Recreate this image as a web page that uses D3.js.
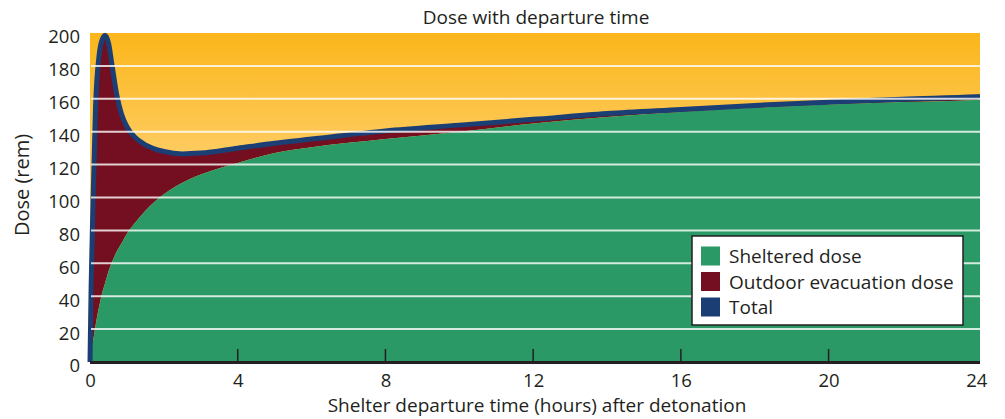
<!DOCTYPE html>
<html>
<head>
<meta charset="utf-8">
<script src="https://cdn.jsdelivr.net/npm/d3@7"></script>
<style>
  body { margin: 0; background: #fff; }
  text { font-family: "Open Sans", sans-serif; fill: #231f20; }
</style>
</head>
<body>
<script>
//data
var hours     = [0, 0.03, 0.08, 0.15, 0.25, 0.33, 0.41, 0.5, 0.6, 0.72, 0.85, 1.0, 1.2, 1.5, 2, 2.5, 3, 4, 5, 6, 8, 10, 12, 14, 16, 18, 20, 22, 24, 24.1];
var sheltered = [0, 4, 12, 22, 34, 42, 48, 55, 61, 67, 72, 78, 84, 92, 102, 109, 114, 121, 127, 130.5, 135.5, 140, 145, 149, 152, 154.5, 156.5, 158, 159.3, 159.4];
var total     = [0, 45, 95, 155, 187, 196, 198.5, 194, 180, 163, 151, 143, 137, 132, 128, 126.5, 127, 130, 133, 135.5, 140.5, 144, 147.5, 151, 153.5, 156, 158, 159.8, 161.3, 161.4];
var yTicks = [0, 20, 40, 60, 80, 100, 120, 140, 160, 180, 200];
var xTicks = [0, 4, 8, 12, 16, 20, 24];
var legendNames = ["Sheltered dose", "Outdoor evacuation dose", "Total"];
var legendColors = ["#2b9965", "#730f20", "#1b3f74"];

var data = hours.map(function(h, i) {
    return {t: h, s: sheltered[i], tot: total[i]};
});

//set margin
var margin = {top: 33, right: 25, bottom: 57, left: 90},
    W = 1005, H = 419,
    width = W - margin.left - margin.right,
    height = H - margin.top - margin.bottom;

var svg = d3.select("body")
    .append("svg")
    .attr("width", W)
    .attr("height", H);

var x = d3.scaleLinear().domain([0, 24.1]).range([margin.left, margin.left + width]);
var y = d3.scaleLinear().domain([0, 200]).range([margin.top + height, margin.top]);

//background gradient
var grad = svg.append("defs").append("linearGradient")
    .attr("id", "bg")
    .attr("x1", 0).attr("y1", 0).attr("x2", 0).attr("y2", 1);
grad.append("stop").attr("offset", "0%").attr("stop-color", "#fbb61b");
grad.append("stop").attr("offset", "38%").attr("stop-color", "#fecc62");
grad.append("stop").attr("offset", "100%").attr("stop-color", "#fed47c");

svg.append("rect")
    .attr("x", x(0))
    .attr("y", y(200))
    .attr("width", x(24.1) - x(0))
    .attr("height", y(0) - y(200))
    .attr("fill", "url(#bg)");

//areas
var greenArea = d3.area()
    .x(function(d) { return x(d.t); })
    .y0(y(0))
    .y1(function(d) { return y(d.s); })
    .curve(d3.curveMonotoneX);

var redArea = d3.area()
    .x(function(d) { return x(d.t); })
    .y0(function(d) { return y(d.s); })
    .y1(function(d) { return y(d.tot); })
    .curve(d3.curveMonotoneX);

var totalLine = d3.line()
    .x(function(d) { return x(d.t); })
    .y(function(d) { return y(d.tot); })
    .curve(d3.curveMonotoneX);

svg.append("path").datum(data).attr("d", redArea).attr("fill", legendColors[1]);
svg.append("path").datum(data).attr("d", greenArea).attr("fill", legendColors[0]);
svg.append("path").datum(data)
    .attr("d", totalLine)
    .attr("fill", "none")
    .attr("stroke", legendColors[2])
    .attr("stroke-width", 5)
    .attr("stroke-linejoin", "round");

//grid lines
svg.append("g")
    .selectAll("line")
    .data(yTicks.filter(function(v) { return v > 0 && v < 200; }))
    .enter()
    .append("line")
    .attr("x1", x(0) + 1)
    .attr("x2", x(24.1))
    .attr("y1", function(d) { return y(d); })
    .attr("y2", function(d) { return y(d); })
    .attr("stroke", "#fff")
    .attr("stroke-opacity", 0.8)
    .attr("stroke-width", 2);

//x axis
var xAxis = d3.axisBottom(x)
    .tickValues(xTicks)
    .tickSize(0)
    .tickPadding(12);

var gx = svg.append("g")
    .attr("transform", "translate(0," + y(0) + ")")
    .call(xAxis);
gx.select(".domain").remove();
gx.selectAll("text").style("font-size", "18.5px").attr("fill", "#231f20");

svg.append("line")
    .attr("x1", x(0)).attr("x2", x(24.1))
    .attr("y1", y(0) + 0.5).attr("y2", y(0) + 0.5)
    .attr("stroke", "#231f20")
    .attr("stroke-width", 3);

svg.append("g")
    .selectAll("line")
    .data(xTicks.filter(function(v) { return v > 0 && v < 24; }))
    .enter()
    .append("line")
    .attr("x1", function(d) { return x(d); })
    .attr("x2", function(d) { return x(d); })
    .attr("y1", y(0) - 13)
    .attr("y2", y(0))
    .attr("stroke", "#231f20")
    .attr("stroke-width", 1.5);

//y axis
var yAxis = d3.axisLeft(y)
    .tickValues(yTicks)
    .tickSize(0)
    .tickPadding(10);

var gy = svg.append("g")
    .attr("transform", "translate(" + x(0) + ",4)")
    .call(yAxis);
gy.select(".domain").remove();
gy.selectAll("text").style("font-size", "18.5px").attr("fill", "#231f20");

//titles
svg.append("text")
    .attr("x", 536)
    .attr("y", 24)
    .attr("text-anchor", "middle")
    .style("font-size", "19px")
    .text("Dose with departure time");

svg.append("text")
    .attr("x", 537)
    .attr("y", 412)
    .attr("text-anchor", "middle")
    .style("font-size", "19px")
    .text("Shelter departure time (hours) after detonation");

svg.append("text")
    .attr("transform", "translate(29,185) rotate(-90)")
    .attr("text-anchor", "middle")
    .style("font-size", "20px")
    .text("Dose (rem)");

//legend
var legend = svg.append("g").attr("transform", "translate(692,236)");
legend.append("rect")
    .attr("width", 271)
    .attr("height", 89)
    .attr("fill", "#fff")
    .attr("stroke", "#231f20")
    .attr("stroke-width", 1.5);

var rows = legend.selectAll(".row")
    .data(legendNames)
    .enter()
    .append("g")
    .attr("class", "row")
    .attr("transform", function(d, i) { return "translate(9," + (20 + i * 25.5) + ")"; });

rows.append("rect")
    .attr("y", -9.5)
    .attr("width", 19)
    .attr("height", 19)
    .attr("fill", function(d, i) { return legendColors[i]; });

rows.append("text")
    .attr("x", 28)
    .attr("y", 7)
    .style("font-size", "19px")
    .text(function(d) { return d; });
</script>
</body>
</html>
